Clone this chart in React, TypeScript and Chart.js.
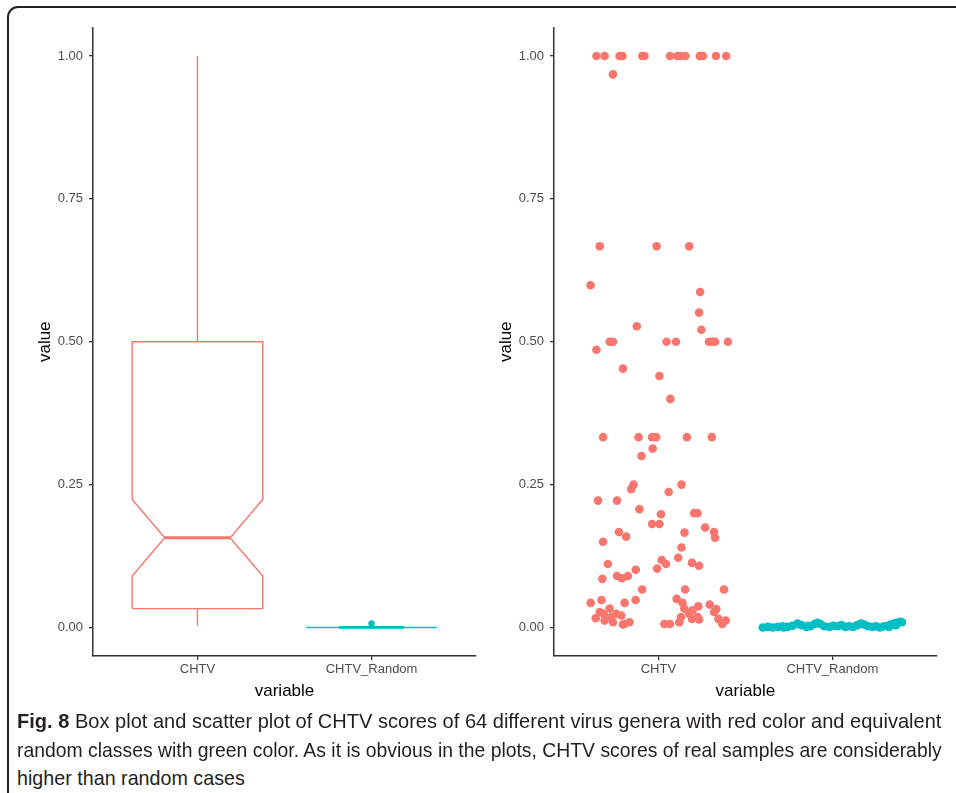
import React, { useEffect, useLayoutEffect, useRef } from "react";
import { Chart, registerables } from "chart.js";

Chart.register(...registerables);

// ---------- data ----------
const categories = ["CHTV", "CHTV_Random"];
const yTicks = [0, 0.25, 0.5, 0.75, 1.0];

// box plot statistics (per category)
const boxQ1 = [0.033, 0];
const boxMedian = [0.157, 0];
const boxQ3 = [0.5, 0];
const notchLow = [0.09, 0];
const notchHigh = [0.224, 0];
const whiskerLow = [0.003, 0];
const whiskerHigh = [1.0, 0];
const outlierCategory = [2];
const outlierValues = [0.007];

// jittered scatter: offset from category centre (category units) and value
const chtvJitter = [
  -0.356, -0.309, -0.223, -0.206, -0.093, -0.08, 0.067, 0.11, 0.13, 0.156, 0.238, 0.257, 0.331, 0.39,
  -0.261, -0.337, -0.01, 0.177, -0.39, 0.24, 0.234, -0.124, 0.247,
  -0.28, -0.261, 0.047, 0.101, 0.291, 0.31, 0.326, 0.4,
  -0.356, -0.204, 0.006, 0.069,
  -0.318, -0.114, -0.036, -0.013, 0.164, 0.307,
  -0.033, -0.097, -0.143, -0.156, 0.133, 0.059, -0.347, -0.238, -0.109, 0.015, 0.206, 0.225,
  -0.036, 0.006, 0.269, 0.15, 0.32, 0.326, -0.227, -0.185, -0.318, 0.133, 0.114, 0.019, 0.044,
  0.193, 0.234, -0.29, -0.007, -0.13, -0.322, -0.238, -0.21, -0.175,
  -0.093, 0.154, 0.377,
  -0.389, -0.327, -0.194, -0.131, 0.105, 0.139, 0.295, 0.333, 0.32,
  -0.36, -0.337, -0.314, -0.28, -0.27, -0.309, -0.261, -0.242, -0.213, -0.194, -0.166, -0.204,
  0.034, 0.067, 0.12, 0.13, 0.149, 0.177, 0.196, 0.23, 0.225, 0.193, 0.234, 0.345, 0.367, 0.387,
];
const chtvValues = [
  1, 1, 1, 1, 1, 1, 1, 1, 1, 1, 1, 1, 1, 1,
  0.968, 0.667, 0.667, 0.667, 0.599, 0.587, 0.551, 0.527, 0.521,
  0.5, 0.5, 0.5, 0.5, 0.5, 0.5, 0.5, 0.5,
  0.486, 0.453, 0.44, 0.4,
  0.333, 0.333, 0.333, 0.333, 0.333, 0.333,
  0.313, 0.3, 0.25, 0.242, 0.25, 0.237, 0.222, 0.222, 0.207, 0.198, 0.2, 0.2,
  0.181, 0.181, 0.175, 0.166, 0.167, 0.157, 0.167, 0.159, 0.15, 0.14, 0.122, 0.118, 0.111,
  0.113, 0.108, 0.111, 0.103, 0.101, 0.085, 0.09, 0.086, 0.09,
  0.0665, 0.0665, 0.0665,
  0.043, 0.048, 0.043, 0.048, 0.05, 0.043, 0.04, 0.032, 0.027,
  0.016, 0.027, 0.024, 0.033, 0.018, 0.012, 0.009, 0.024, 0.021, 0.006, 0.009, 0.005,
  0.006, 0.006, 0.009, 0.018, 0.033, 0.024, 0.03, 0.037, 0.018, 0.015, 0.014, 0.015, 0.006, 0.012,
];
const randomJitter = [
  -0.4, -0.371, -0.343, -0.314, -0.286, -0.257, -0.229, -0.2, -0.177, -0.149, -0.126, -0.103, -0.086,
  -0.069, -0.046, -0.017, 0.006, 0.029, 0.051, 0.074, 0.097, 0.12, 0.143, 0.166, 0.183, 0.206, 0.229,
  0.251, 0.274, 0.297, 0.32, 0.337, 0.354, 0.371, 0.389, 0.4, 0.366, 0.326, -0.28, -0.137,
];
const randomValues = [
  0, 0.001, 0, 0.001, 0.002, 0.001, 0.003, 0.007, 0.004, 0.001, 0.002, 0.006, 0.008,
  0.006, 0.002, 0.001, 0.003, 0.002, 0.004, 0.001, 0.002, 0.001, 0.004, 0.007, 0.005, 0.002, 0.001,
  0.002, 0, 0.002, 0.003, 0.005, 0.007, 0.008, 0.01, 0.009, 0.004, 0.001, 0, 0.003,
];

const captionLabel = "Fig. 8";
const captionLines = [
  "Box plot and scatter plot of CHTV scores of 64 different virus genera with red color and equivalent",
  "random classes with green color. As it is obvious in the plots, CHTV scores of real samples are considerably",
  "higher than random cases",
];
const captionLineWidths = [924, 925, 228];

// ---------- styling ----------
const RED = "#F8766D";
const CYAN = "#00BFC4";
const AXIS = "#333333";
const TICK_TEXT = "#4d4d4d";
const FONT = "'Liberation Sans', Arial, Helvetica, sans-serif";
const catColors = [RED, CYAN];

function axes() {
  return {
    x: {
      type: "linear",
      min: 0.4,
      max: 2.6,
      afterBuildTicks: (s: any) => {
        s.ticks = categories.map((_, i) => ({ value: i + 1 }));
      },
      afterFit: (s: any) => {
        s.height = 64;
      },
      ticks: {
        autoSkip: false,
        maxRotation: 0,
        padding: 2,
        color: TICK_TEXT,
        font: { family: FONT, size: 13 },
        callback: (v: number) => categories[Math.round(v) - 1] ?? "",
      },
      grid: { drawOnChartArea: false, drawTicks: true, tickLength: 4, color: AXIS, lineWidth: 1.3 },
      border: { display: true, color: AXIS, width: 1.5 },
      title: {
        display: true,
        text: "variable",
        color: "#000",
        font: { family: FONT, size: 17 },
        padding: { top: 0, bottom: 18 },
      },
    },
    y: {
      type: "linear",
      min: -0.05,
      max: 1.05,
      afterBuildTicks: (s: any) => {
        s.ticks = yTicks.map((v) => ({ value: v }));
      },
      afterFit: (s: any) => {
        s.width = 93;
      },
      ticks: {
        padding: 6,
        color: TICK_TEXT,
        font: { family: FONT, size: 13 },
        callback: (v: number) => v.toFixed(2),
      },
      grid: { drawOnChartArea: false, drawTicks: true, tickLength: 4, color: AXIS, lineWidth: 1.3 },
      border: { display: true, color: AXIS, width: 1.5 },
      title: {
        display: true,
        text: "value",
        color: "#000",
        font: { family: FONT, size: 17 },
        padding: { top: 35, bottom: 0 },
      },
    },
  };
}

function lineDs(points: { x: number; y: number }[], color: string, width: number) {
  return {
    type: "scatter",
    data: points,
    showLine: true,
    borderColor: color,
    backgroundColor: color,
    borderWidth: width,
    pointRadius: 0,
    pointHoverRadius: 0,
    fill: false,
    tension: 0,
    borderJoinStyle: "miter",
  };
}

function boxDatasets() {
  const out: any[] = [];
  const hw = 0.375;
  const nw = 0.1875;
  categories.forEach((_, i) => {
    const p = i + 1;
    const c = catColors[i];
    const q1 = boxQ1[i], q3 = boxQ3[i], med = boxMedian[i], nl = notchLow[i], nh = notchHigh[i];
    out.push(
      lineDs(
        [
          { x: p - hw, y: q1 },
          { x: p - hw, y: nl },
          { x: p - nw, y: med },
          { x: p - hw, y: nh },
          { x: p - hw, y: q3 },
          { x: p + hw, y: q3 },
          { x: p + hw, y: nh },
          { x: p + nw, y: med },
          { x: p + hw, y: nl },
          { x: p + hw, y: q1 },
          { x: p - hw, y: q1 },
        ],
        c,
        1.4
      )
    );
    out.push(lineDs([{ x: p, y: q3 }, { x: p, y: whiskerHigh[i] }], c, 1.4));
    out.push(lineDs([{ x: p, y: q1 }, { x: p, y: whiskerLow[i] }], c, 1.4));
    out.push(lineDs([{ x: p - nw, y: med }, { x: p + nw, y: med }], c, 2.8));
  });
  out.push({
    type: "scatter",
    data: outlierCategory.map((c, k) => ({ x: c, y: outlierValues[k] })),
    pointRadius: 3.2,
    backgroundColor: outlierCategory.map((c) => catColors[c - 1]),
    borderWidth: 0,
  });
  return out;
}

function scatterDatasets() {
  return [
    {
      type: "scatter",
      data: chtvJitter.map((j, k) => ({ x: 1 + j, y: chtvValues[k] })),
      pointRadius: 4.3,
      backgroundColor: RED,
      borderWidth: 0,
    },
    {
      type: "scatter",
      data: randomJitter.map((j, k) => ({ x: 2 + j, y: randomValues[k] })),
      pointRadius: 4.3,
      backgroundColor: CYAN,
      borderWidth: 0,
    },
  ];
}

function Panel({ kind, left }: { kind: "box" | "scatter"; left: number }) {
  const ref = useRef<HTMLCanvasElement | null>(null);
  useEffect(() => {
    if (!ref.current) return;
    const chart = new Chart(ref.current, {
      type: "scatter",
      data: { datasets: (kind === "box" ? boxDatasets() : scatterDatasets()) as any },
      options: {
        responsive: false,
        animation: false,
        devicePixelRatio: 1,
        layout: { padding: { left: 0, top: 27.5, right: 2, bottom: 0 } },
        plugins: { legend: { display: false }, tooltip: { enabled: false } },
        events: [],
        scales: axes() as any,
      },
    });
    return () => chart.destroy();
  }, [kind]);
  return (
    <canvas
      ref={ref}
      width={480}
      height={720}
      style={{ position: "absolute", left, top: 0, width: 480, height: 720 }}
    />
  );
}

function CaptionLine({ index, children }: { index: number; children: React.ReactNode }) {
  const ref = useRef<HTMLDivElement | null>(null);
  useLayoutEffect(() => {
    const el = ref.current;
    if (!el) return;
    const w = el.scrollWidth;
    if (w > 0) el.style.transform = `scaleX(${captionLineWidths[index] / w})`;
  }, [index]);
  return (
    <div
      ref={ref}
      style={{
        position: "absolute",
        left: 17,
        top: 707 + index * 28.5,
        display: "inline-block",
        transformOrigin: "0 0",
        fontFamily: "'Liberation Sans', Arial, sans-serif",
        fontSize: 21,
        lineHeight: "28.5px",
        color: "#231f20",
        whiteSpace: "nowrap",
      }}
    >
      {children}
    </div>
  );
}

export default function App() {
  return (
    <div
      style={{
        position: "absolute",
        left: 0,
        top: 0,
        width: 956,
        height: 793,
        overflow: "hidden",
        background: "#fff",
      }}
    >
      <div
        style={{
          position: "absolute",
          left: 7,
          top: 6,
          width: 1000,
          height: 900,
          border: "2px solid #222",
          borderRadius: 11,
        }}
      />
      <Panel kind="box" left={0} />
      <Panel kind="scatter" left={461} />
      <CaptionLine index={0}>
        <b>{captionLabel}</b> {captionLines[0]}
      </CaptionLine>
      <CaptionLine index={1}>{captionLines[1]}</CaptionLine>
      <CaptionLine index={2}>{captionLines[2]}</CaptionLine>
    </div>
  );
}
